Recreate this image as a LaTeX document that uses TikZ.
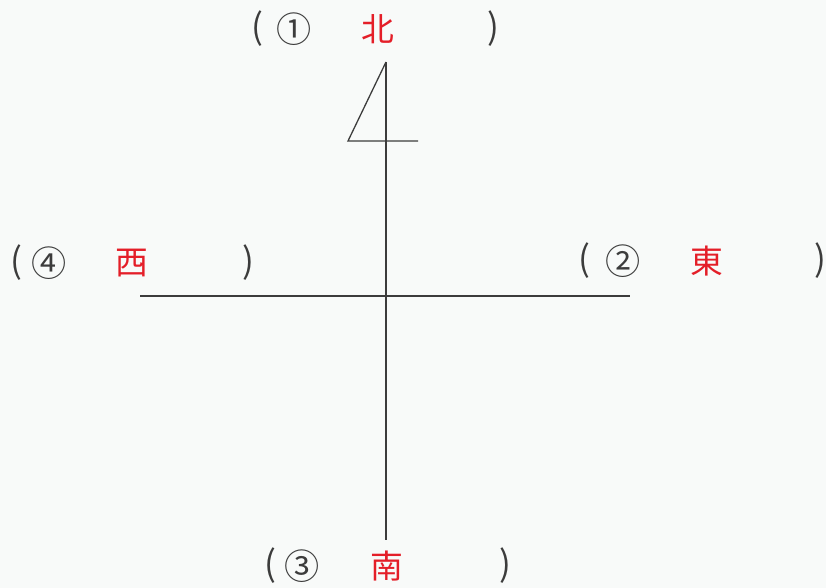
\documentclass[tikz,border=0pt]{standalone}
\usepackage{fontspec}
\newfontfamily\jpfont{Noto Sans CJK JP}
\usepackage{xcolor}
\usepackage{tikz}
\usetikzlibrary{positioning}

\definecolor{penred}{RGB}{228,30,40}
\definecolor{inkgray}{RGB}{60,60,60}
\definecolor{paper}{RGB}{248,250,249}

\begin{document}
\begin{tikzpicture}[x=0.03cm, y=-0.03cm,
    axis line/.style={draw=inkgray, line width=1.1pt},
    lbl/.style={font=\jpfont\fontsize{30}{34}\selectfont, text=inkgray, inner sep=0pt},
    answer/.style={lbl, font=\jpfont\fontsize{28}{32}\selectfont, text=penred}]
    \fill[paper] (0,0) rectangle (826,588);
    \useasboundingbox (0,0) rectangle (826,588);

    			\coordinate (N) at (386,62);
    			\coordinate (S) at (386,540);
    			\coordinate (W) at (140,296);
    			\coordinate (E) at (630,296);
    			\coordinate (T) at (348,141);
    			\coordinate (R) at (418,141);

    			\draw[axis line] (N) -- (S);
    			\draw[axis line] (W) -- (E);
    			% half arrow for north
    			\draw[axis line] (N) -- (T) -- (R);

    			\foreach \i/\y/\xa/\xb/\xc/\xd/\num/\dir in {
    				1/29/257/294/378/493/①/北,
    				2/261/584/623/707/820/②/東,
    				3/566/270/302/387/505/③/南,
    				4/263/16/49/132/248/④/西
    			}{
    				\node[lbl] (open\i) at (\xa,\y) {(};
    				\node[lbl] (num\i) at (\xb,\y) {\num};
    				\node[answer] (dir\i) at (\xc,\y) {\dir};
    				\node[lbl] (close\i) at (\xd,\y) {)};
    			}
    		\end{tikzpicture}
\end{document}
